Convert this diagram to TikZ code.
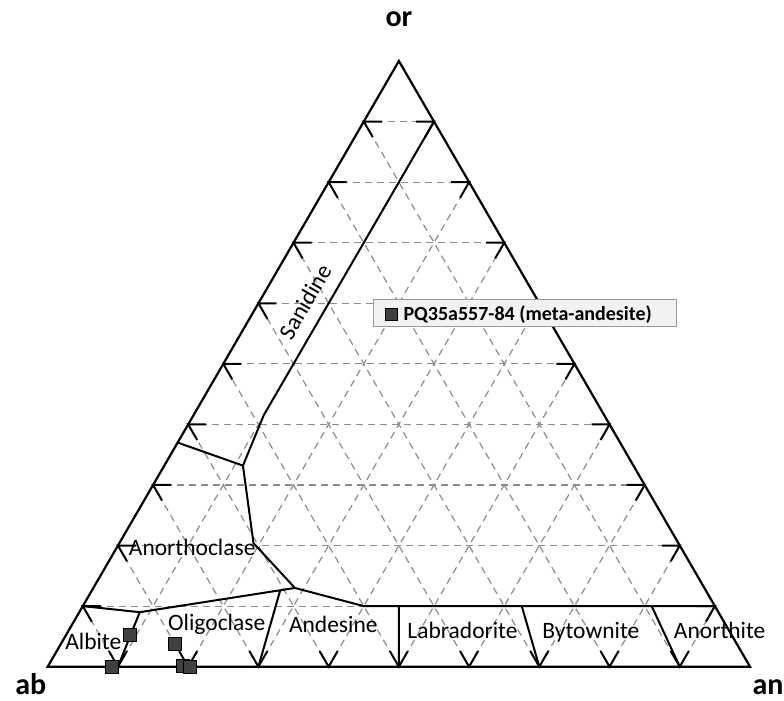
\documentclass[tikz,border=0pt]{standalone}
\usepackage{fontspec}
\setmainfont{Carlito}
\usepackage{tikz}
\def\field#1#2#3{\node[field] (#1) at (#2) {#3}}
\def\sample#1#2{\node[sample] (#1) at (#2) {}}
\tikzstyle{rim}=[draw=black,line width=2.2pt,line join=miter]
\tikzstyle{gridline}=[draw=black!45,line width=1.2pt,dash pattern=on 7pt off 5pt]
\tikzstyle{tickmark}=[draw=black,line width=2pt]
\tikzstyle{border}=[draw=black,line width=2pt,line join=round]
\tikzstyle{field}=[anchor=base,inner sep=0pt,font=\fontsize{23.5}{28}\selectfont]
\tikzstyle{corner}=[anchor=base,inner sep=0pt,font=\fontsize{30}{36}\selectfont\bfseries]
\tikzstyle{sample}=[rectangle,fill=black!75,draw=black,line width=0.8pt,minimum size=13pt,inner sep=0pt,outer sep=0pt]
\tikzstyle{legendbox}=[rectangle,fill=black!5,draw=black!40,line width=1pt,inner sep=0pt,outer sep=0pt]

\begin{document}
\begin{tikzpicture}[x=1pt,y=1pt]
  \useasboundingbox (0,0) rectangle (784,701);
  \coordinate (ab) at (47.7,34.3);
  \coordinate (an) at (750,34.3);
  \coordinate (or) at (398.9,640);
  % points every 10% on the three sides
  \foreach \k in {1,...,9} {
    \pgfmathsetmacro\v{\k/10}
    \pgfmathsetmacro\w{1-\k/10}
    \coordinate (l\k) at (barycentric cs:ab=\w,or=\v);
    \coordinate (r\k) at (barycentric cs:an=\w,or=\v);
    \coordinate (b\k) at (barycentric cs:ab=\w,an=\v);
  }
  % dashed grid
  \foreach \k in {1,...,9} {
    \pgfmathtruncatemacro\j{10-\k}
    \draw[gridline] (l\k) -- (r\k);
    \draw[gridline] (b\k) -- (l\k);
    \draw[gridline] (b\k) -- (r\j);
  }
  % ticks
  \foreach \k in {1,...,9} {
    \draw[tickmark] (l\k) +(0:18) -- (l\k) -- +(-60:18);
    \draw[tickmark] (b\k) +(60:18) -- (b\k) -- +(120:18);
    \draw[tickmark] (r\k) +(180:18) -- (r\k) -- +(240:18);
  }
  \draw[rim] (ab) -- (an) -- (or) -- cycle;

  % field boundaries
  \coordinate (san) at (barycentric cs:an=0.1,or=0.9);
  \coordinate (bend) at (barycentric cs:ab=0.485,an=0.1,or=0.415);
  \coordinate (tj) at (barycentric cs:ab=0.556,an=0.112,or=0.332);
  \coordinate (tl) at (barycentric cs:ab=0.63,or=0.37);
  \coordinate (ea) at (barycentric cs:ab=0.605,an=0.191,or=0.204);
  \coordinate (fj) at (barycentric cs:ab=0.583,an=0.287,or=0.13);
  \coordinate (og) at (barycentric cs:ab=0.606,an=0.268,or=0.126);
  \coordinate (ao) at (barycentric cs:ab=0.824,an=0.086,or=0.09);
  \coordinate (al) at (barycentric cs:ab=0.9,or=0.1);
  \coordinate (ad) at (barycentric cs:ab=0.5,an=0.4,or=0.1);
  \coordinate (lb) at (barycentric cs:ab=0.45,an=0.45,or=0.1);
  \coordinate (bt) at (barycentric cs:ab=0.275,an=0.625,or=0.1);
  \coordinate (at) at (barycentric cs:ab=0.09,an=0.81,or=0.1);
  \draw[border] (san) -- (bend) -- (tj) -- (ea) -- (fj) -- (ad) -- (r1);
  \draw[border] (tl) -- (tj);
  \draw[border] (al) -- (ao) -- (fj);
  \draw[border] (ao) -- (b1);
  \draw[border] (og) -- (b3);
  \draw[border] (lb) -- (b5);
  \draw[border] (bt) -- (b7);
  \draw[border] (at) -- (b9);

  % field names
  \field{albite}{93.3,51}{Albite};
  \field{oligoclase}{216.7,70.3}{Oligoclase};
  \field{andesine}{333.3,68.7}{Andesine};
  \field{labradorite}{462.5,62}{Labradorite};
  \field{bytownite}{590.8,62}{Bytownite};
  \field{anorthite}{719.7,62}{Anorthite};
  \field{anorthoclase}{192.2,145.3}{Anorthoclase};
  \node[field,anchor=center,rotate=60] (sanidine) at (305,399.3) {Sanidine};

  % end members
  \node[corner] (orlabel) at (399,674.3) {or};
  \node[corner] (ablabel) at (30.8,6) {ab};
  \node[corner] (anlabel) at (768,6) {an};

  % analyses
  \sample{s1}{130,66};
  \sample{s2}{111.7,34.3};
  \sample{s3}{175,56.7};
  \sample{s4}{182.7,35.3};
  \sample{s5}{190,34.3};

  % legend
  \node[legendbox,minimum width=302.7pt,minimum height=27.4pt] (legend) at (524.7,388) {};
  \node[sample,minimum size=12pt] (key) at (391.7,387) {};
  \node[anchor=base west,inner sep=0pt,font=\fontsize{20}{24}\selectfont\bfseries] (keytext) at (403.3,380.3) {PQ35a557-84 (meta-andesite)};
\end{tikzpicture}
\end{document}
